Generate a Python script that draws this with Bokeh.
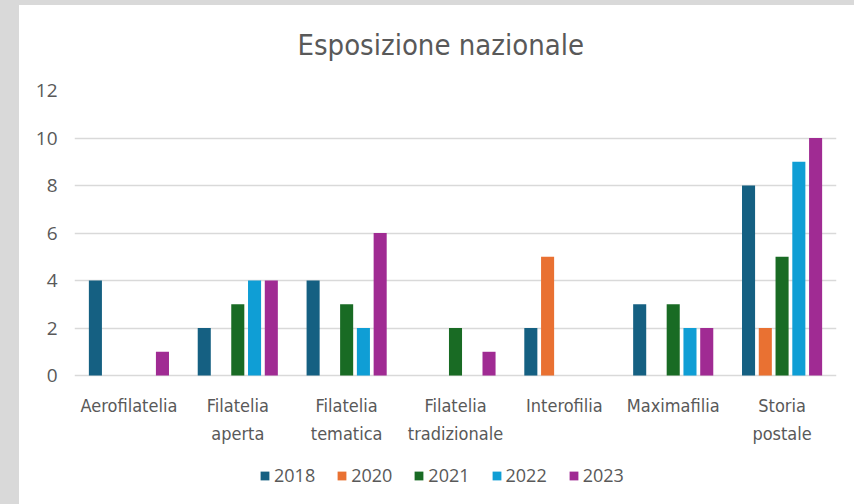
from bokeh.plotting import figure
from bokeh.models import FactorRange, Range1d, ColumnDataSource, Legend, LegendItem, FixedTicker, InlineStyleSheet
from bokeh.core.properties import value
from bokeh.transform import dodge
from bokeh.embed import file_html
from bokeh.resources import INLINE

categories = ["Aerofilatelia", "Filatelia\naperta", "Filatelia\ntematica", "Filatelia\ntradizionale",
              "Interofilia", "Maximafilia", "Storia\npostale"]
years = ["2018", "2020", "2021", "2022", "2023"]
v2018 = [4, 2, 4, 0, 2, 3, 8]
v2020 = [0, 0, 0, 0, 5, 0, 2]
v2021 = [0, 3, 3, 2, 0, 3, 5]
v2022 = [0, 4, 2, 0, 0, 2, 9]
v2023 = [1, 4, 6, 1, 0, 2, 10]
colors = ["#156082", "#E97132", "#196B24", "#0F9ED5", "#A02B93"]
y_ticks = [0, 2, 4, 6, 8, 10, 12]

src = ColumnDataSource(dict(cat=categories, y2018=v2018, y2020=v2020, y2021=v2021, y2022=v2022, y2023=v2023))

NARROW = "DejaVu Sans Condensed"
GRAY = "#595959"

# frame covers the plot area plus the category-label and legend band below it
p = figure(x_range=FactorRange(*categories, range_padding=0), y_range=Range1d(-5.43, 12),
           frame_width=762, frame_height=414,
           output_backend="svg", toolbar_location=None,
           min_border_left=55, min_border_right=18, min_border_top=93, min_border_bottom=0,
           title="Esposizione nazionale")
p.border_fill_color = None
p.styles = {"margin-left": "19px", "margin-top": "-3px"}
p.stylesheets = [InlineStyleSheet(css=":host { background: linear-gradient(to bottom, #d9d9d9 8px, #ffffff 8px); box-shadow: -19px 0 0 0 #d9d9d9; }")]

p.title.align = "left"
p.title.offset = 223
p.title.text_font = NARROW
p.title.text_font_size = "29px"
p.title.text_font_style = "normal"
p.title.text_color = GRAY
p.title.standoff = 57

offsets = [-0.308, -0.154, 0.0, 0.154, 0.308]
items = []
for yr, off, c in zip(years, offsets, colors):
    r = p.vbar(x=dodge("cat", off, range=p.x_range), top="y" + yr, width=0.12, source=src,
               fill_color=c, line_color=None)
    items.append(LegendItem(label=yr, renderers=[r]))

# category labels
p.text(x="cat", y=-0.82, text="cat", source=src, text_align="center", text_baseline="top",
       text_font=value(NARROW), text_font_size="18px", text_color=GRAY, text_line_height=1.35)

p.outline_line_color = None
p.xgrid.grid_line_color = None
p.ygrid.grid_line_color = "#d9d9d9"
p.ygrid.grid_line_width = 1.5
p.xaxis.visible = False
p.yaxis.ticker = FixedTicker(ticks=y_ticks)
p.yaxis.axis_line_color = None
p.yaxis.major_tick_line_color = None
p.yaxis.minor_tick_line_color = None
p.yaxis.major_label_text_font = "Open Sans"
p.yaxis.major_label_text_font_size = "19px"
p.yaxis.major_label_text_color = GRAY
p.yaxis.major_label_standoff = 11

legend = Legend(items=items, orientation="horizontal", location=(185, 17),
                label_text_font="Open Sans", label_text_font_size="18px", label_text_color=GRAY,
                glyph_width=11, glyph_height=11, label_standoff=4, spacing=21,
                border_line_color=None, background_fill_alpha=0, padding=0, margin=0)
p.add_layout(legend)

open("out.html", "w").write(file_html(p, INLINE))
